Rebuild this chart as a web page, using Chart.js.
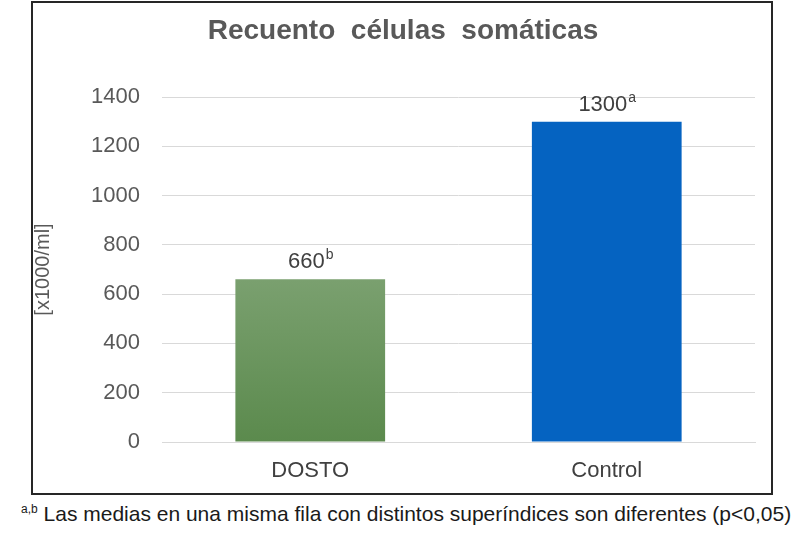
<!DOCTYPE html>
<html>
<head>
<meta charset="utf-8">
<script src="https://cdn.jsdelivr.net/npm/chart.js@4"></script>
<style>
    body { margin: 0; background: #fff; font-family: "Liberation Sans", Arial, sans-serif; }
    #box { position: absolute; left: 31px; top: 1px; width: 738px; height: 490px; border: 2px solid #262626; }
    #note { position: absolute; left: 21px; top: 502px; font-size: 21px; color: #1a1a1a; white-space: nowrap; }
    #note sup { font-size: 12px; }
</style>
</head>
<body>
<div id="box"><canvas id="chart" width="738" height="490"></canvas></div>
<div id="note"><sup>a,b</sup> Las medias en una misma fila con distintos superíndices son diferentes (p&lt;0,05)</div>
<script>
const categories = ["DOSTO", "Control"];
const recuento = [660, 1300];
const letras = ["b", "a"];
const yTicks = [0, 200, 400, 600, 800, 1000, 1200, 1400];

const FONT = "'Liberation Sans', Arial, sans-serif";

// gradient fill for the green bar, solid blue for control
function barColor(ctx) {
    if (ctx.dataIndex === 1) return "#0563c1";
    const chart = ctx.chart;
    const area = chart.chartArea;
    const yScale = chart.scales.y;
    if (!area || !yScale) return "#6a955c";
    const top = yScale.getPixelForValue(recuento[0]);
    if (!isFinite(top) || !isFinite(area.bottom)) return "#6a955c";
    const g = chart.ctx.createLinearGradient(0, top, 0, area.bottom);
    g.addColorStop(0, "#7aa06f");
    g.addColorStop(1, "#5b8a4d");
    return g;
}

// value labels with superscript letter
const valueLabels = {
    id: "valueLabels",
    afterDatasetsDraw(chart) {
        const ctx = chart.ctx;
        const meta = chart.getDatasetMeta(0);
        ctx.save();
        ctx.fillStyle = "#404040";
        ctx.textBaseline = "alphabetic";
        meta.data.forEach((bar, i) => {
            const main = String(recuento[i]);
            ctx.font = "22px " + FONT;
            const w1 = ctx.measureText(main).width;
            ctx.font = "14px " + FONT;
            const w2 = ctx.measureText(letras[i]).width;
            const x0 = bar.x - (w1 + w2) / 2;
            const y = bar.y - 11;
            ctx.font = "22px " + FONT;
            ctx.textAlign = "left";
            ctx.fillText(main, x0, y);
            ctx.font = "14px " + FONT;
            ctx.fillText(letras[i], x0 + w1 + 1, y - 9);
        });
        ctx.restore();
    }
};

new Chart(document.getElementById("chart"), {
    type: "bar",
    data: {
        labels: categories,
        datasets: [{
            data: recuento,
            backgroundColor: barColor,
            categoryPercentage: 1,
            barPercentage: 0.505
        }]
    },
    options: {
        responsive: false,
        animation: false,
        layout: { padding: { top: 11, right: 16, left: 18, bottom: 0 } },
        scales: {
            x: {
                grid: { display: false },
                border: { color: "#d9d9d9", width: 1 },
                ticks: { color: "#404040", padding: 8, font: { family: FONT, size: 22 } },
                afterFit: (s) => { s.height = 51; }
            },
            y: {
                min: 0,
                max: 1400,
                afterBuildTicks: (s) => { s.ticks = yTicks.map(v => ({ value: v })); },
                grid: { color: "#d9d9d9", drawTicks: false },
                border: { display: false },
                ticks: {
                    color: "#595959",
                    padding: 22,
                    font: { family: FONT, size: 22 },
                    callback: (v) => String(v)
                },
                title: {
                    display: true,
                    text: "[x1000/ml]",
                    color: "#595959",
                    padding: { top: -20, bottom: 0 },
                    font: { family: FONT, size: 20 }
                },
                afterFit: (s) => { s.width = 111; }
            }
        },
        plugins: {
            legend: { display: false },
            tooltip: { enabled: false },
            title: {
                display: true,
                text: "Recuento  células  somáticas",
                color: "#595959",
                padding: { top: 0, bottom: 49.4 },
                font: { family: FONT, size: 28, weight: "bold" }
            }
        }
    },
    plugins: [valueLabels]
});
</script>
</body>
</html>
